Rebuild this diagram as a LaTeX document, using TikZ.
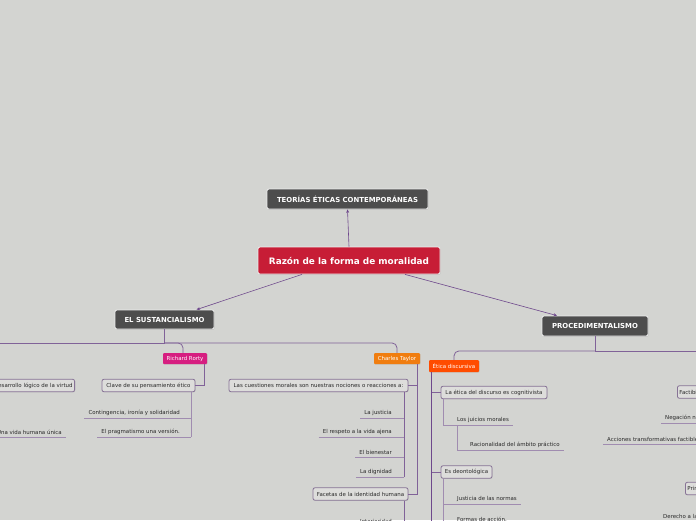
\documentclass[tikz,border=0pt]{standalone}
\usepackage{fontspec}
\setmainfont{DejaVu Sans}
\usetikzlibrary{shapes,shadows,arrows.meta,positioning,calc}

\definecolor{fondo}{RGB}{211,212,209}
\definecolor{gris}{RGB}{77,77,77}
\definecolor{carmin}{RGB}{199,29,54}
\definecolor{rosa}{RGB}{214,30,128}
\definecolor{naranja}{RGB}{240,125,15}
\definecolor{rojizo}{RGB}{255,76,0}
\definecolor{lila}{RGB}{110,72,140}
\definecolor{lilamedio}{RGB}{128,98,152}
\definecolor{lilaclaro}{RGB}{160,140,176}
\definecolor{borde}{RGB}{135,115,150}
\definecolor{caja}{RGB}{221,221,219}
\definecolor{texto}{RGB}{40,40,40}

\tikzset{
    titulo/.style={
        rectangle,                % caja de los temas principales
        rounded corners=2pt,      % esquinas apenas redondeadas
        draw=white!85!gray,       % borde claro
        line width=0.8pt,
        fill=#1,                  % color de relleno que se pasa al estilo
        text=white,
        font=\bfseries\fontsize{6.9}{8}\selectfont,
        inner sep=2pt,
        drop shadow={opacity=0.25,shadow xshift=0.6pt,shadow yshift=-0.8pt}
    },
    autor/.style={
        rectangle,                % etiqueta de autor (color pleno)
        rounded corners=1pt,
        fill=#1,
        text=white,
        font=\fontsize{5.45}{6.4}\selectfont,
        inner sep=1.5pt,
        minimum height=11pt,
        drop shadow={opacity=0.2,shadow xshift=0.5pt,shadow yshift=-0.6pt}
    },
    idea/.style={
        rectangle,                % caja de idea secundaria
        rounded corners=2pt,
        draw=borde,
        line width=0.8pt,
        fill=caja,
        text=texto,
        font=\fontsize{5.45}{6.4}\selectfont,
        inner sep=2pt,
        minimum height=12.5pt,
        drop shadow={opacity=0.2,shadow xshift=0.5pt,shadow yshift=-0.7pt}
    },
    hoja/.style={
        inner xsep=4pt,           % texto suelto, subrayado por la rama
        inner ysep=2.6pt,
        text=texto,
        font=\fontsize{5.45}{6.4}\selectfont
    },
    enlace/.style={draw=lila, line width=0.6pt, -{Stealth[length=3.5pt,width=3pt]}},
    rama/.style={draw=lilamedio, line width=0.8pt},
    ramita/.style={draw=lilaclaro, line width=0.7pt}
}

\begin{document}
\begin{tikzpicture}[x=1pt,y=1pt]
    \useasboundingbox (0,0) rectangle (696,-520);
    \fill[fondo] (0,0) rectangle (696,-520);
    \clip (0,0) rectangle (696,-520);

    % temas principales
    \node[titulo=gris, minimum width=161pt, minimum height=20pt] (teorias) at (347.5,-199) {TEORÍAS ÉTICAS CONTEMPORÁNEAS};
    \node[titulo=carmin, minimum width=182pt, minimum height=27pt, font=\bfseries\fontsize{8.9}{10}\selectfont] (razon) at (349,-260.5) {Razón de la forma de moralidad};
    \node[titulo=gris, minimum width=99pt, minimum height=19pt] (sust) at (164.5,-319.5) {EL SUSTANCIALISMO};
    \node[titulo=gris, minimum width=106pt, minimum height=20pt] (proc) at (595,-326) {PROCEDIMENTALISMO};

    % autores
    \node[autor=rosa, minimum width=44pt] (rorty) at (185,-358.5) {Richard Rorty};
    \node[autor=naranja, minimum width=46pt] (taylor) at (397,-358.5) {Charles Taylor};
    \node[autor=rojizo, minimum width=50pt, minimum height=12pt] (etica) at (454,-366) {Ética discursiva};

    % ideas
    \node[idea, anchor=east] (virtud) at (75,-385.5) {Desarrollo lógico de la virtud};
    \node[idea, minimum width=93pt] (clave) at (148.5,-385.5) {Clave de su pensamiento ético};
    \node[idea, minimum width=179pt] (cuest) at (318.5,-385.5) {Las cuestiones morales son nuestras nociones o reacciones a:};
    \node[idea, minimum width=95pt] (facetas) at (360.5,-494) {Facetas de la identidad humana};
    \node[idea, minimum width=106pt] (cogn) at (494,-392.5) {La ética del discurso es cognitivista};
    \node[idea, minimum width=51pt] (deon) at (466.5,-472) {Es deontológica};
    \node[idea, anchor=west] (factib) at (677,-392) {Factibilidad};
    \node[idea, anchor=west] (princ) at (685,-488.5) {Principios};

    % hojas
    \node[hoja, anchor=south east] (unica) at (66,-437) {Una vida humana única};
    \node[hoja, anchor=south east] (conti) at (184,-418) {Contingencia, ironía y solidaridad};
    \node[hoja, anchor=south east] (prag) at (184,-437) {El pragmatismo una versión.};
    \node[hoja, anchor=south east] (just) at (396,-418) {La justicia};
    \node[hoja, anchor=south east] (respeto) at (396,-437.5) {El respeto a la vida ajena};
    \node[hoja, anchor=south east] (bienestar) at (396,-457) {El bienestar};
    \node[hoja, anchor=south east] (dignidad) at (396,-477) {La dignidad};
    \node[hoja, anchor=south east] (interior) at (396,-526) {Interioridad};
    \node[hoja, anchor=south west] (juicios) at (453,-425) {Los juicios morales};
    \node[hoja, anchor=south west] (racio) at (466,-450) {Racionalidad del ámbito práctico};
    \node[hoja, anchor=south west] (normas) at (453,-504) {Justicia de las normas};
    \node[hoja, anchor=south west] (formas) at (453,-524) {Formas de acción.};
    \node[hoja, anchor=south west] (negacion) at (661,-423) {Negación normativa};
    \node[hoja, anchor=south west] (acciones) at (603,-444) {Acciones transformativas factibles};
    \node[hoja, anchor=south west] (derecho) at (659,-521.5) {Derecho a la vida};

    % enlaces del tema central
    \draw[enlace] (razon.north) -- (teorias.south);
    \draw[enlace] ([xshift=-47pt]razon.south) -- ([xshift=32pt]sust.north);
    \draw[enlace] ([xshift=56pt]razon.south) -- ([xshift=-38pt]proc.north);

    % sustancialismo
    \draw[rama] (sust.south) -- ++(0,-13.5) coordinate (nudo1);
    \draw[rama] (nudo1) -- ++(-200,0);
    \draw[rama, rounded corners=5pt] (nudo1) -| ([xshift=-2pt]rorty.north);
    \draw[rama, rounded corners=5pt] (nudo1) -| (taylor.north);

    \draw[rama] ([xshift=19pt]rorty.south) |- (clave.east);
    \draw[ramita] ([xshift=-4pt]clave.south east) coordinate (t1) -- (t1 |- prag.south);
    \draw[ramita] (conti.south west) -- (conti.south west -| t1);
    \draw[ramita] (prag.south west) -- (prag.south west -| t1);
    \draw[ramita] (unica.south west) -- (unica.south east);

    \draw[rama] ([xshift=20pt]taylor.south) coordinate (t2) |- (facetas.east);
    \draw[rama] (cuest.east) -- (cuest.east -| t2);
    \draw[rama] ([xshift=-4pt]cuest.south east) coordinate (t3) -- (t3 |- dignidad.south);
    \foreach \h in {just,respeto,bienestar,dignidad}
        \draw[ramita] (\h.south west) -- (\h.south west -| t3);
    \draw[rama] ([xshift=-4pt]facetas.south east) coordinate (t4) -- (t4 |- interior.south);
    \draw[ramita] (interior.south west) -- (interior.south west -| t4);

    % procedimentalismo
    \draw[rama] (proc.south) -- ++(0,-14.5) coordinate (nudo2);
    \draw[rama] (nudo2) -- ++(150,0);
    \draw[rama, rounded corners=5pt] (nudo2) -| (etica.north);
    \draw[rama, draw=lila] ([xshift=3pt]etica.south west) coordinate (t5) -- ++(0,-170);
    \draw[rama] (t5 |- cogn.west) -- (cogn.west);
    \draw[rama] (t5 |- deon.west) -- (deon.west);
    \draw[ramita] ([xshift=3pt]cogn.south west) coordinate (t6) -- (t6 |- juicios.south) -- (juicios.south east);
    \draw[ramita] ([xshift=4.7pt]juicios.south west) coordinate (t7) -- (t7 |- racio.south) -- (racio.south east);
    \draw[ramita] ([xshift=3pt]deon.south west) coordinate (t8) -- ++(0,-60);
    \draw[ramita] (t8 |- normas.south) -- (normas.south east);
    \draw[ramita] (t8 |- formas.south) -- (formas.south east);
    \draw[ramita] (negacion.south west) -- ++(80,0);
    \draw[ramita] (acciones.south west) -- ++(120,0);
    \draw[ramita] (derecho.south west) -- ++(80,0);
\end{tikzpicture}
\end{document}
